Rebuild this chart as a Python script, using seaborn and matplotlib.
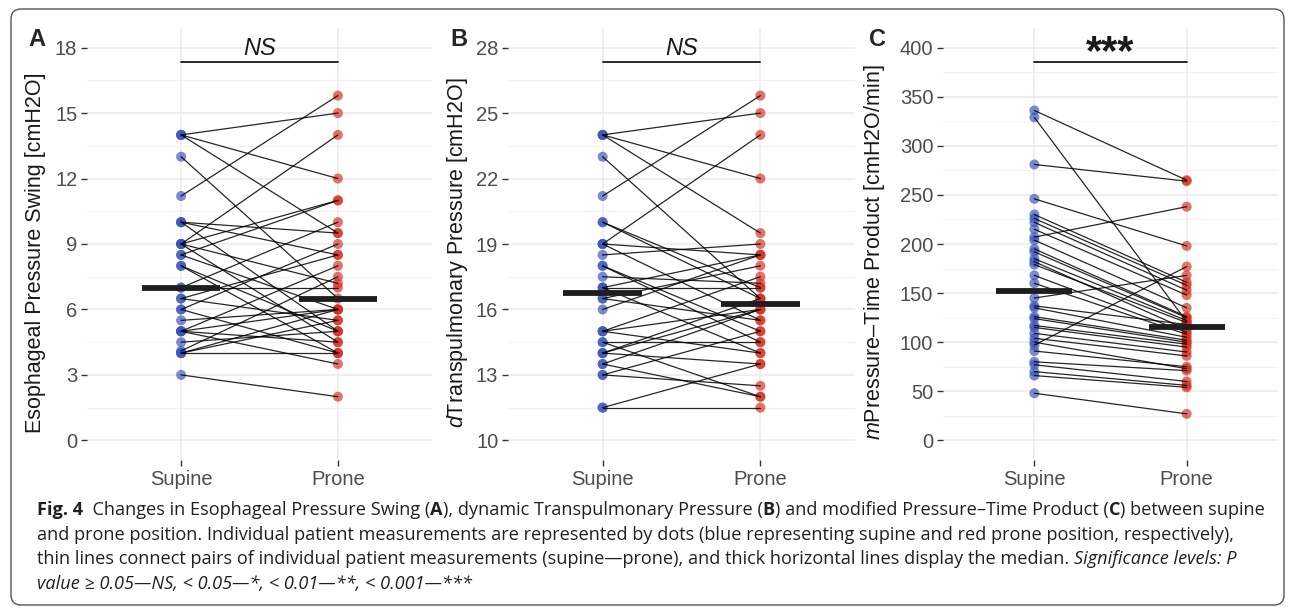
import numpy as np
import pandas as pd
import seaborn as sns
import matplotlib.pyplot as plt
from matplotlib.patches import FancyBboxPatch
from matplotlib.transforms import IdentityTransform

# positions on the x axis
positions = ['Supine', 'Prone']

# Panel A - esophageal pressure swing, paired by patient
eps_supine = [14, 14, 14, 13, 11.2, 10, 10, 10, 9, 9, 9, 9, 8.5, 8.5, 8, 8, 7,
              7, 6.5, 6.5, 6, 6, 5.5, 5, 5, 5, 5, 4.5, 4.1, 4, 4, 4, 3]
eps_prone = [15, 12, 9.5, 6.5, 15.8, 9.5, 8.5, 5, 14, 11, 7.2, 4.5, 11, 6, 5, 4,
             10, 7, 8.5, 5.5, 9, 4, 6, 8, 6, 4.5, 3.5, 5, 7.5, 6, 5.5, 4, 2]

# Panel B - dynamic transpulmonary pressure
dtp_supine = [24, 24, 24, 23, 21.2, 20, 20, 19, 19, 19, 18.5, 18, 18, 17.5, 17,
              17, 17, 16.5, 16.5, 16, 15, 15, 15, 14.5, 14.5, 14, 14, 14, 13.5,
              13.5, 13, 13, 11.5, 11.5]
dtp_prone = [25, 22, 19.5, 16.5, 25.8, 17, 16.5, 24, 18.5, 15.5, 19, 15, 14.5,
             17.2, 18.5, 17, 14, 18, 15.5, 18.5, 17.5, 16, 14, 14.5, 12, 16,
             16.5, 13.5, 16, 12, 15, 12.5, 13.5, 11.5]

# Panel C - modified pressure-time product
ptp_supine = [336, 329, 281, 246, 230, 226, 222, 215, 207, 204, 195, 192, 185,
              182, 179, 168, 160, 145, 137, 135, 126, 124, 117, 115, 109, 104,
              100, 97, 91, 80, 77, 70, 66, 48]
ptp_prone = [265, 121, 264, 198, 161, 158, 153, 148, 238, 135, 126, 125, 122,
             113, 120, 110, 108, 168, 118, 105, 102, 100, 98, 95, 90, 86, 73,
             177, 75, 71, 60, 56, 54, 27]

blue = '#3A55BC'
red = '#D8301F'

sns.set_theme(style='white')
plt.rcParams['font.family'] = ['Liberation Sans', 'DejaVu Sans']
plt.rcParams['mathtext.fontset'] = 'custom'
plt.rcParams['mathtext.rm'] = 'Liberation Sans'
plt.rcParams['mathtext.it'] = 'Liberation Sans:italic'


def long_table(supine, prone):
    n = len(supine)
    df = pd.DataFrame({'patient': list(range(n)) * 2,
                       'position': ['Supine'] * n + ['Prone'] * n,
                       'value': list(supine) + list(prone)})
    df['x'] = df['position'].map({p: i for i, p in enumerate(positions)})
    return df


def panel(ax, df, lo, hi, step, ylabel, letter, letter_x, sig, sig_y, sig_ty, sig_size, sig_style):
    sns.lineplot(data=df, x='x', y='value', units='patient', estimator=None,
                 color='black', lw=0.9, alpha=0.85, ax=ax, zorder=3)
    sns.scatterplot(data=df, x='x', y='value', hue='position',
                    palette={'Supine': blue, 'Prone': red}, s=52, alpha=0.68,
                    edgecolor='none', legend=False, ax=ax, zorder=2)
    med = df.groupby('x')['value'].median()
    ax.hlines(med.values, med.index - 0.25, med.index + 0.25,
              color='#1e1e1e', lw=4.2, zorder=5)

    pad = (hi - lo) * 0.05
    ax.set_xlim(-0.6, 1.6)
    ax.set_ylim(lo - pad, hi + pad)
    ax.set_yticks(np.arange(lo, hi + step / 2, step))
    ax.set_yticks(np.arange(lo + step / 2, hi, step), minor=True)
    ax.set_xticks([0, 1])
    ax.set_xticklabels(positions)
    ax.grid(True, which='major', color='#EBEBEB', lw=1.1)
    ax.grid(True, which='minor', axis='y', color='#F2F2F2', lw=0.7)
    ax.set_axisbelow(True)
    for s in ax.spines.values():
        s.set_visible(False)
    ax.tick_params(axis='both', which='major', length=4, width=1, color='#333333',
                   labelsize=14.5, labelcolor='#4D4D4D', pad=3, left=True, bottom=True)
    ax.tick_params(axis='y', which='minor', length=0)
    ax.set_xlabel('')
    ax.set_ylabel(ylabel, fontsize=15.5, color='#1a1a1a')

    ax.plot([0, 1], [sig_y, sig_y], color='#1a1a1a', lw=1.3)
    ax.text(0.5, sig_ty, sig, ha='center', va='center', fontsize=sig_size,
            style=sig_style, color='#1a1a1a',
            fontweight='bold' if sig == '***' else 'normal')
    ax.text(letter_x, 1.0, letter, transform=ax.transAxes, fontsize=17,
            fontweight='bold', va='top', ha='center')


fig = plt.figure(figsize=(12.93, 6.09), dpi=100)
W, H = 1293, 609
boxes = [(87, 432), (508, 855), (943, 1278)]
top, bottom = 28, 460
axes = [fig.add_axes([l / W, 1 - bottom / H, (r - l) / W, (bottom - top) / H])
        for l, r in boxes]

panel(axes[0], long_table(eps_supine, eps_prone), 0, 18, 3,
      'Esophageal Pressure Swing [cmH2O]', 'A', -0.145, 'NS', 17.35, 17.95, 17, 'italic')
panel(axes[1], long_table(dtp_supine, dtp_prone), 10, 28, 3,
      r'$d$Transpulmonary Pressure [cmH2O]', 'B', -0.14, 'NS', 27.35, 27.95, 17, 'italic')
panel(axes[2], long_table(ptp_supine, ptp_prone), 0, 400, 50,
      r'$m$Pressure–Time Product [cmH2O/min]', 'C', -0.197, '***', 385, 394, 30, 'normal')

axes[0].yaxis.set_label_coords(-0.12, 0.48)
axes[1].yaxis.set_label_coords(-0.11, 0.48)
axes[2].yaxis.set_label_coords(-0.168, 0.48)

# rounded frame around the figure
frame = FancyBboxPatch((11, 4), 1273, 596, boxstyle='round,pad=0,rounding_size=10',
                       transform=IdentityTransform(), fill=False,
                       edgecolor='#555555', lw=1.0)
fig.add_artist(frame)

# caption with mixed styles
cap_font = ['Open Sans', 'DejaVu Sans']
renderer = fig.canvas.get_renderer()


def advance(s, size, weight, style):
    kw = dict(fontsize=size, fontweight=weight, style=style, family=cap_font)
    t = fig.text(0, 0, s + '|', **kw)
    w1 = t.get_window_extent(renderer).width
    t.remove()
    t = fig.text(0, 0, '|', **kw)
    w2 = t.get_window_extent(renderer).width
    t.remove()
    return w1 - w2


caption = [
    [('Fig. 4', 'bold', 'normal'),
     ('  Changes in Esophageal Pressure Swing (', 'normal', 'normal'),
     ('A', 'bold', 'normal'),
     ('), dynamic Transpulmonary Pressure (', 'normal', 'normal'),
     ('B', 'bold', 'normal'),
     (') and modified Pressure–Time Product (', 'normal', 'normal'),
     ('C', 'bold', 'normal'),
     (') between supine', 'normal', 'normal')],
    [('and prone position. Individual patient measurements are represented by dots '
      '(blue representing supine and red prone position, respectively),', 'normal', 'normal')],
    [('thin lines connect pairs of individual patient measurements (supine—prone), '
      'and thick horizontal lines display the median. ', 'normal', 'normal'),
     ('Significance levels: P', 'normal', 'italic')],
    [('value ≥ 0.05—NS, < 0.05—*, < 0.01—**, < 0.001—***', 'normal', 'italic')],
]

# scale the caption so the two longest lines fit their widths in the figure
w1 = sum(advance(t, 10, wt, st) for t, wt, st in caption[0])
w2 = advance(caption[1][0][0], 10, 'normal', 'normal')
cap_size = min(10 * 1228 / w1, 10 * 1225 / w2)

baselines = [515, 540, 564, 589]
for line, base in zip(caption, baselines):
    x = 37
    for text, weight, style in line:
        fig.text(x, H - base, text, fontsize=cap_size, fontweight=weight, style=style,
                 family=cap_font, color='#231F20', va='baseline', ha='left',
                 transform=IdentityTransform())
        x += advance(text, cap_size, weight, style)

fig.savefig('out.png', dpi=100)
